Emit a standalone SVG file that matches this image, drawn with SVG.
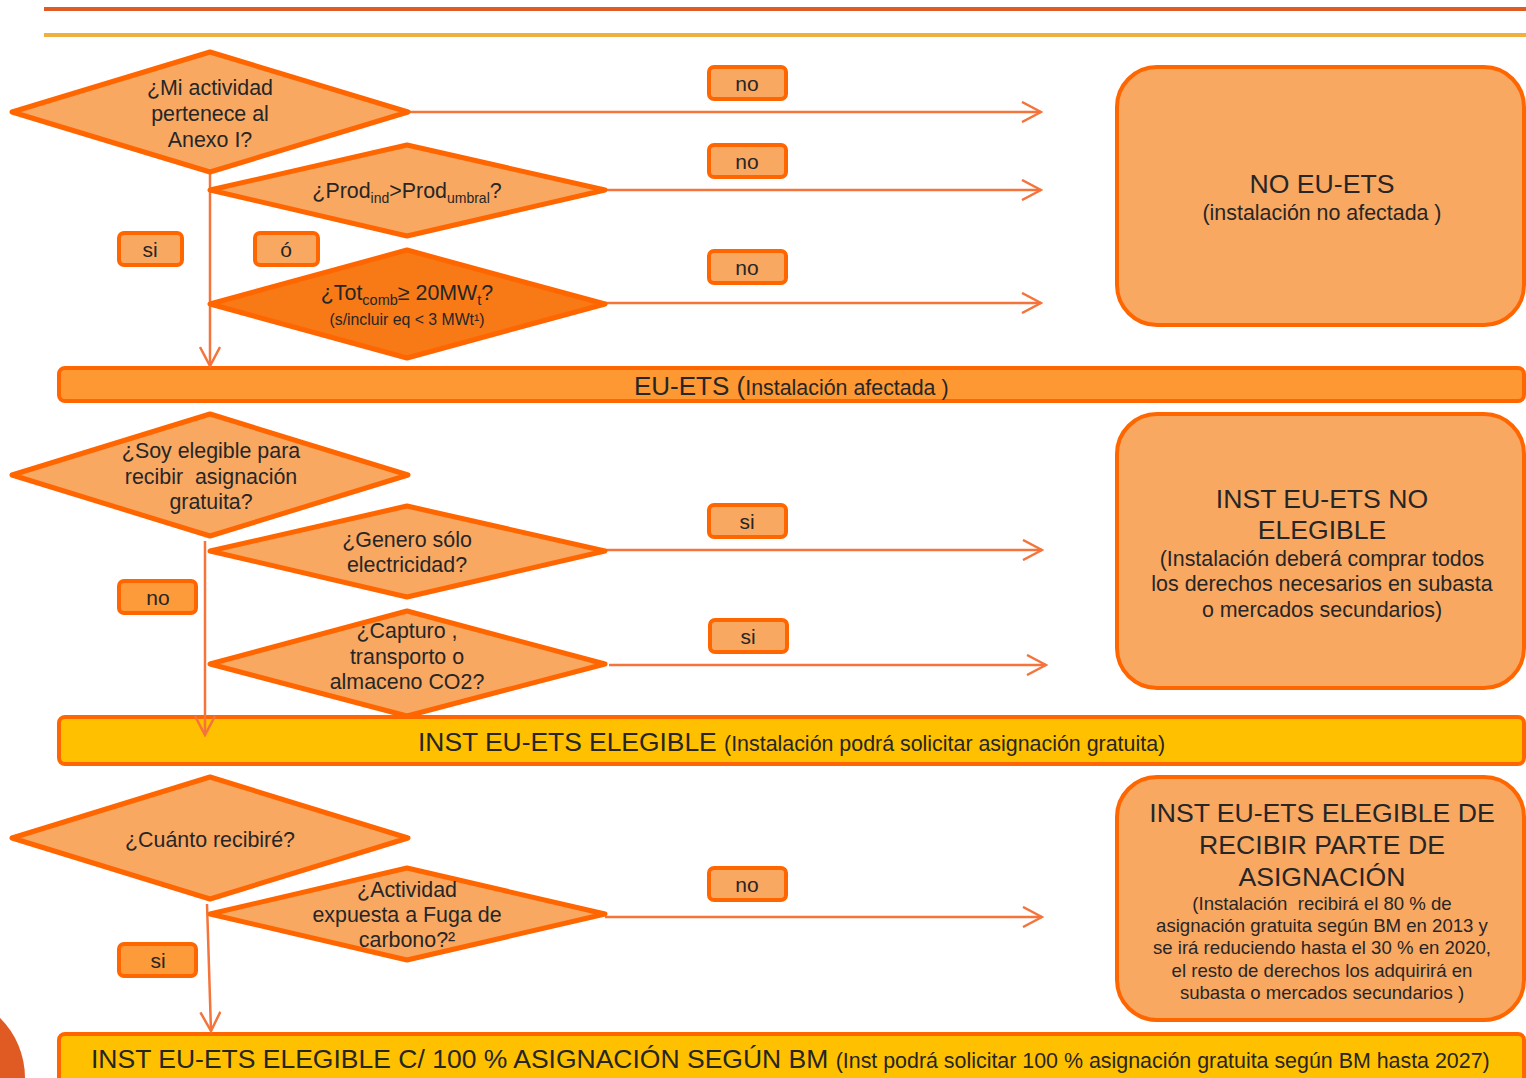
<svg xmlns="http://www.w3.org/2000/svg" width="1526" height="1078" viewBox="0 0 1526 1078">
<style>
text{font-family:"Liberation Sans",Arial,sans-serif;fill:#262626}
.dia{fill:#F9A862;stroke:#FF6600;stroke-width:5;stroke-linejoin:round}
.dia2{fill:#F77A17;stroke:#FF6600;stroke-width:5;stroke-linejoin:round}
.lbl{fill:#F9A862;stroke:#FF6600;stroke-width:4}
.lbl2{fill:#FD9A3A;stroke:#FF6600;stroke-width:4}
.box{fill:#F9A862;stroke:#FF6600;stroke-width:4}
.con{fill:none;stroke:#F4743B;stroke-width:2.5}
.t21{font-size:21.4px;text-anchor:middle}
.t20{font-size:21px;text-anchor:middle}
.sub{font-size:21.4px;text-anchor:middle}
.big{font-size:26.6px;text-anchor:middle}
.sm{font-size:18.6px;text-anchor:middle}
</style>
<defs>
<marker id="arr" viewBox="0 0 22 22" markerWidth="22" markerHeight="22" markerUnits="userSpaceOnUse" refX="20" refY="11" orient="auto">
<path d="M1,1 L20,11 L1,21" fill="none" stroke="#F4743B" stroke-width="2.5"/>
</marker>
</defs>

<g id="header">
<rect x="44" y="7" width="1482" height="4" fill="#E05A24"/>
<rect x="44" y="33" width="1482" height="4" fill="#F0B040"/>
</g>
<g id="corner">
<circle cx="-60" cy="1078" r="85" fill="#E05A24"/>
</g>

<g id="bar-euets">
<rect x="59" y="368" width="1465" height="33" rx="6" fill="#FD9832" stroke="#FF6600" stroke-width="4"/>
<text x="634" y="395" font-size="26">EU-ETS (<tspan font-size="21.4">Instalación afectada )</tspan></text>
</g>
<g id="bar-elegible">
<rect x="59" y="717" width="1465" height="47" rx="6" fill="#FFC000" stroke="#FF6600" stroke-width="4"/>
<text x="418" y="751" font-size="26.4">INST EU-ETS ELEGIBLE <tspan font-size="21.4">(Instalación podrá solicitar asignación gratuita)</tspan></text>
</g>
<g id="bar-100">
<rect x="59" y="1034" width="1465" height="60" rx="6" fill="#FFC000" stroke="#FF6600" stroke-width="4"/>
<text x="91" y="1068" font-size="26.5">INST EU-ETS ELEGIBLE C/ 100 % ASIGNACIÓN SEGÚN BM <tspan font-size="21.4">(Inst podrá solicitar 100 % asignación gratuita según BM hasta 2027)</tspan></text>
</g>

<g id="connectors">
<path class="con" d="M210,172 V366" marker-end="url(#arr)"/>
<path class="con" d="M408,112 H1041" marker-end="url(#arr)"/>
<path class="con" d="M605,190 H1041" marker-end="url(#arr)"/>
<path class="con" d="M605,303 H1041" marker-end="url(#arr)"/>
<path class="con" d="M205,541 V735" marker-end="url(#arr)"/>
<path class="con" d="M605,550 H1042" marker-end="url(#arr)"/>
<path class="con" d="M609,665 H1046" marker-end="url(#arr)"/>
<path class="con" d="M207,904 L211,1031" marker-end="url(#arr)"/>
<path class="con" d="M605,917 H1042" marker-end="url(#arr)"/>
</g>

<g id="q-anexo">
<polygon class="dia" points="12,112 210,52 408,112 210,172"/>
<text class="t21" x="210" y="95">¿Mi actividad</text>
<text class="t21" x="210" y="121">pertenece al</text>
<text class="t21" x="210" y="147">Anexo I?</text>
</g>
<g id="q-prod">
<polygon class="dia" points="210,190 407,145 605,190 407,236"/>
<text class="t21" x="407" y="198">¿Prod<tspan font-size="14" dy="5">ind</tspan><tspan dy="-5">&gt;Prod</tspan><tspan font-size="14" dy="5">umbral</tspan><tspan dy="-5">?</tspan></text>
</g>
<g id="q-tot">
<polygon class="dia2" points="210,304 407,250 605,304 407,358"/>
<text class="t21" x="407" y="300" font-size="22">¿Tot<tspan font-size="14.5" dy="5">comb</tspan><tspan dy="-5">≥ 20MW</tspan><tspan font-size="14.5" dy="5">t</tspan><tspan dy="-5">?</tspan></text>
<text x="407" y="325" font-size="15.8" text-anchor="middle">(s/incluir eq &lt; 3 MWt¹)</text>
</g>
<g id="lbl-si1">
<rect class="lbl" x="119" y="233" width="63" height="32" rx="5"/>
<text class="t20" x="150" y="257">si</text>
</g>
<g id="lbl-o">
<rect class="lbl" x="255" y="233" width="63" height="32" rx="5"/>
<text class="t20" x="286" y="257">ó</text>
</g>
<g id="lbl-no1">
<rect class="lbl" x="709" y="67" width="77" height="32" rx="5"/>
<text class="t20" x="747" y="91">no</text>
</g>
<g id="lbl-no2">
<rect class="lbl" x="709" y="145" width="77" height="32" rx="5"/>
<text class="t20" x="747" y="169">no</text>
</g>
<g id="lbl-no3">
<rect class="lbl" x="709" y="251" width="77" height="32" rx="5"/>
<text class="t20" x="747" y="275">no</text>
</g>
<g id="r-no-euets">
<rect class="box" x="1117" y="67" width="407" height="258" rx="40"/>
<text class="big" x="1322" y="193">NO EU-ETS</text>
<text class="sub" x="1322" y="220">(instalación no afectada )</text>
</g>

<g id="q-elegible">
<polygon class="dia" points="12,475 210,414 408,475 210,536"/>
<text class="t21" x="211" y="458">¿Soy elegible para</text>
<text class="t21" x="211" y="484" xml:space="preserve">recibir  asignación</text>
<text class="t21" x="211" y="509">gratuita?</text>
</g>
<g id="q-genero">
<polygon class="dia" points="210,551 407,506 605,551 407,597"/>
<text class="t21" x="407" y="547">¿Genero sólo</text>
<text class="t21" x="407" y="572">electricidad?</text>
</g>
<g id="q-capturo">
<polygon class="dia" points="210,664 407,611 605,664 407,716"/>
<text class="t21" x="407" y="638">¿Capturo ,</text>
<text class="t21" x="407" y="664">transporto o</text>
<text class="t21" x="407" y="689">almaceno CO2?</text>
</g>
<g id="lbl-no4">
<rect class="lbl2" x="119" y="581" width="77" height="32" rx="5"/>
<text class="t20" x="158" y="605">no</text>
</g>
<g id="lbl-si2">
<rect class="lbl" x="709" y="505" width="77" height="32" rx="5"/>
<text class="t20" x="747" y="529">si</text>
</g>
<g id="lbl-si3">
<rect class="lbl" x="710" y="620" width="77" height="32" rx="5"/>
<text class="t20" x="748" y="644">si</text>
</g>
<g id="r-no-elegible">
<rect class="box" x="1117" y="414" width="407" height="274" rx="40"/>
<text class="big" x="1322" y="508">INST EU-ETS NO</text>
<text class="big" x="1322" y="539">ELEGIBLE</text>
<text class="sub" x="1322" y="566">(Instalación deberá comprar todos</text>
<text class="sub" x="1322" y="591">los derechos necesarios en subasta</text>
<text class="sub" x="1322" y="617">o mercados secundarios)</text>
</g>

<g id="q-cuanto">
<polygon class="dia" points="12,838 210,777 408,838 210,899"/>
<text class="t21" x="210" y="847">¿Cuánto recibiré?</text>
</g>
<g id="q-fuga">
<polygon class="dia" points="210,914 407,868 605,914 407,960"/>
<text class="t21" x="407" y="897">¿Actividad</text>
<text class="t21" x="407" y="922">expuesta a Fuga de</text>
<text class="t21" x="407" y="947">carbono?²</text>
</g>
<g id="lbl-si4">
<rect class="lbl2" x="119" y="944" width="77" height="32" rx="5"/>
<text class="t20" x="158" y="968">si</text>
</g>
<g id="lbl-no5">
<rect class="lbl" x="709" y="868" width="77" height="32" rx="5"/>
<text class="t20" x="747" y="892">no</text>
</g>
<g id="r-parte">
<rect class="box" x="1117" y="777" width="407" height="243" rx="40"/>
<text class="big" x="1322" y="822">INST EU-ETS ELEGIBLE DE</text>
<text class="big" x="1322" y="854">RECIBIR PARTE DE</text>
<text class="big" x="1322" y="886">ASIGNACIÓN</text>
<text class="sm" x="1322" y="910" xml:space="preserve">(Instalación  recibirá el 80 % de</text>
<text class="sm" x="1322" y="932">asignación gratuita según BM en 2013 y</text>
<text class="sm" x="1322" y="954">se irá reduciendo hasta el 30 % en 2020,</text>
<text class="sm" x="1322" y="977">el resto de derechos los adquirirá en</text>
<text class="sm" x="1322" y="999">subasta o mercados secundarios )</text>
</g>
</svg>
